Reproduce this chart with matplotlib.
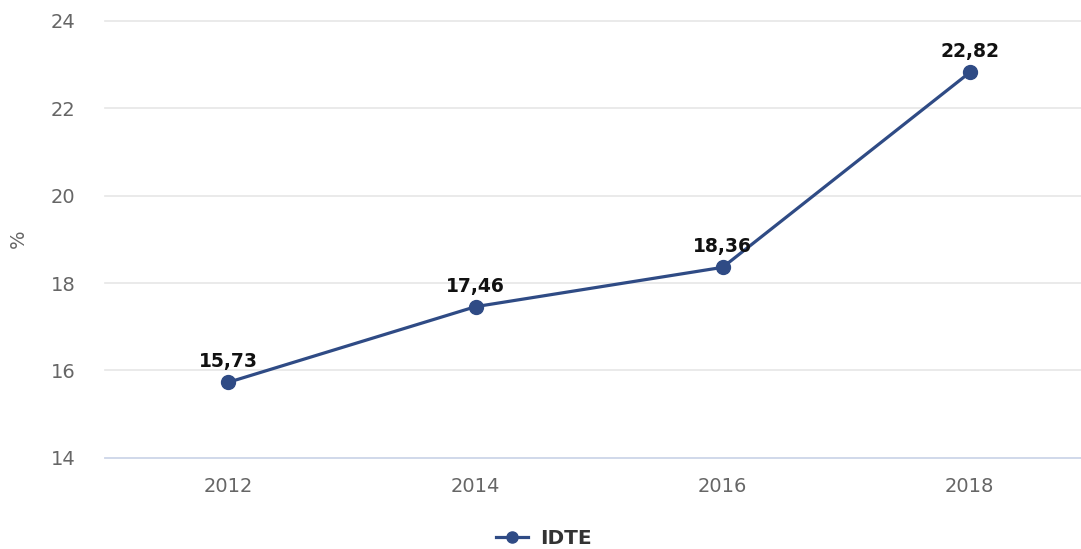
import matplotlib
matplotlib.use("Agg")
import matplotlib.pyplot as plt

years = ["2012", "2014", "2016", "2018"]
idte = [15.73, 17.46, 18.36, 22.82]
value_labels = ["15,73", "17,46", "18,36", "22,82"]
yticks = [14, 16, 18, 20, 22, 24]

LINE_COLOR = "#2f4b85"

fig = plt.figure(figsize=(10.81, 5.49), dpi=100)
ax = fig.add_axes([0.097, 0.166, 0.903, 0.796])

x = list(range(len(years)))
ax.plot(x, idte, color=LINE_COLOR, linewidth=2.3, marker="o", markersize=10,
        label="IDTE", zorder=3, clip_on=False)

for xi, yi, lab in zip(x, idte, value_labels):
    ax.annotate(lab, (xi, yi), xytext=(0, 8), textcoords="offset points",
                ha="center", va="bottom", fontsize=13.5, fontweight="bold",
                color="#111111")

ax.set_xlim(-0.5, 3.45)
ax.set_ylim(14, 24)
ax.set_xticks(x)
ax.set_xticklabels(years)
ax.set_yticks(yticks)

ax.grid(axis="y", color="#e6e6e6", linewidth=1.2)
for gl in ax.get_ygridlines():
    gl.set_clip_on(False)
ax.set_axisbelow(True)
for s in ["top", "right", "left"]:
    ax.spines[s].set_visible(False)
ax.spines["bottom"].set_color("#ccd6eb")
ax.spines["bottom"].set_linewidth(1.2)
ax.tick_params(axis="both", length=0, labelsize=14, labelcolor="#666666")
ax.tick_params(axis="x", pad=14)
ax.tick_params(axis="y", pad=21)

fig.text(0.017, 0.565, "%", rotation=90, fontsize=14, color="#666666",
         ha="center", va="center")

leg = ax.legend(loc="upper center", bbox_to_anchor=(0.45, -0.122), frameon=False,
                prop={"size": 14.5, "weight": "bold"}, handlelength=1.6,
                handletextpad=0.6, markerscale=0.8)
for t in leg.get_texts():
    t.set_color("#333333")

fig.savefig("out.png", dpi=100)
